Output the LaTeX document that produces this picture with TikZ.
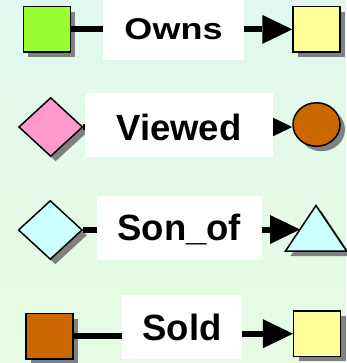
\documentclass[tikz,border=0pt]{standalone}
\usepackage{fontspec}
\setmainfont{Liberation Sans}
\usetikzlibrary{shapes.geometric,shadows,arrows.meta}
\pgfdeclarelayer{bglayer}
\pgfdeclarelayer{midlayer}
\pgfsetlayers{bglayer,midlayer,main}
\definecolor{bgtop}{RGB}{224,248,238}
\definecolor{bgbot}{RGB}{231,251,226}
\definecolor{grn}{RGB}{153,255,51}
\definecolor{yel}{RGB}{255,255,153}
\definecolor{brn}{RGB}{204,102,0}
\definecolor{pnk}{RGB}{255,153,204}
\definecolor{cyn}{RGB}{204,255,255}
\definecolor{shd}{RGB}{128,128,128}
\tikzset{
  shad/.style={drop shadow={shadow xshift=5pt,shadow yshift=-5pt,fill=shd,opacity=1}},
  sq/.style={draw=black,line width=1.5pt,minimum width=47pt,minimum height=45.5pt,inner sep=0pt,shad},
  dia/.style={diamond,draw=black,line width=1.5pt,minimum width=64pt,minimum height=59pt,inner sep=0pt,shad},
  ell/.style={ellipse,draw=black,line width=1.5pt,minimum width=47pt,minimum height=43.5pt,inner sep=0pt,shad},
  lab/.style={fill=white,inner sep=0pt,minimum height=64pt,text depth=0pt,font=\bfseries\fontsize{36.5}{40}\selectfont},
  conn/.style={draw=black,line width=6pt},
  arr/.style={-{Triangle[length=30pt,width=29pt,line width=0pt]}},
}
\begin{document}
\begin{tikzpicture}[x=1pt,y=-1pt]
\useasboundingbox (0,0) rectangle (346,363);
\begin{pgfonlayer}{bglayer}
\shade[top color=bgtop,bottom color=bgbot] (0,0) rectangle (346,363);
\end{pgfonlayer}
\begin{pgfonlayer}{midlayer}
\node[sq,fill=grn] (g1) at (46.9,29.4) {};
\node[sq,fill=yel] (y1) at (316.5,29.4) {};
\node[dia,fill=pnk] (d2) at (50.7,127) {};
\node[ell,fill=brn] (c2) at (316.5,124.5) {};
\node[dia,fill=cyn] (d3) at (50.3,230) {};
\filldraw[fill=cyn,draw=black,line width=1.5pt,line join=miter,shad] (285.5,251) -- (316,205.5) -- (346.5,251) -- cycle;
\coordinate (t3) at (300,229.5);
\node[sq,fill=brn] (b4) at (49.5,336.4) {};
\node[sq,fill=yel] (y4) at (317.2,333.7) {};
\end{pgfonlayer}
% labels
\node[lab,minimum width=141pt,text height=23pt] (l1) at (173.5,28) {\fontsize{30}{34}\selectfont\scalebox{1.2}[1]{Owns}};
\node[lab,minimum width=188pt,text height=30.6pt] (l2) at (179,125.5) {Viewed};
\node[lab,minimum width=165pt,text height=26pt] (l3) at (179.2,227.5) {Son\_of};
\node[lab,minimum width=120pt,text height=27pt] (l4) at (181.9,327) {Sold};
% connectors (behind labels)
\begin{pgfonlayer}{midlayer}
\draw[conn] (g1.east) -- (g1.east -| l1.west);
\draw[conn,arr] (l1.east |- y1.west) -- (y1.west);
\draw[conn,arr] (d2.east) -- (d2.east -| c2.west);
\draw[conn] (d3.east) -- (d3.east -| l3.west);
\draw[conn,arr] (l3.east |- t3) -- (t3);
\draw[conn] (b4.east) -- (b4.east -| l4.west);
\draw[conn,arr] (l4.east |- y4.west) -- (y4.west);
\end{pgfonlayer}
\end{tikzpicture}
\end{document}
